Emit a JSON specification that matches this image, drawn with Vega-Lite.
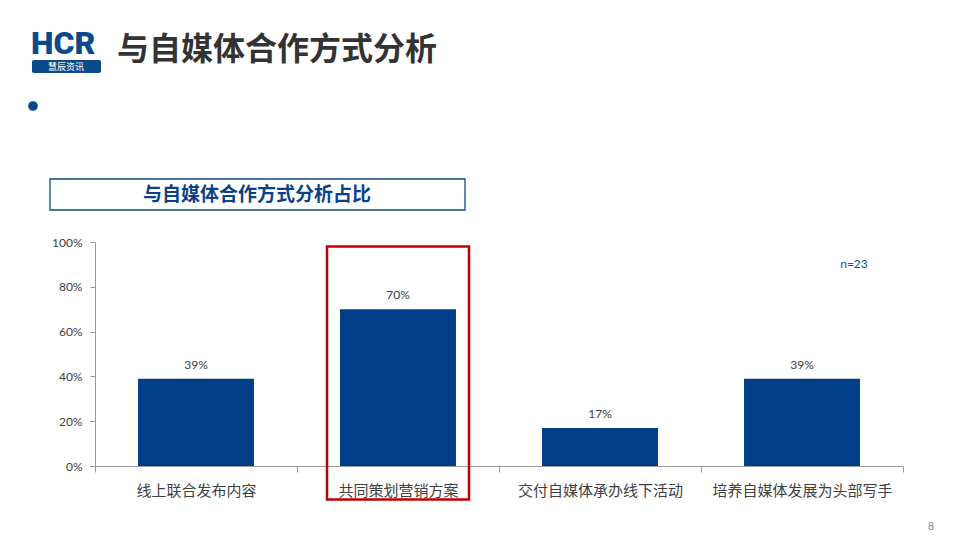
{
  "$schema": "https://vega.github.io/schema/vega-lite/v6.json",
  "width": 808,
  "height": 224,
  "autosize": {"type": "none"},
  "padding": {"left": 95, "top": 242, "right": 57, "bottom": 74},
  "background": "white",
  "config": {"view": {"stroke": null}, "font": "Noto Sans CJK SC"},
  "data": {
    "values": [
      {"method": "线上联合发布内容", "share": 0.39},
      {"method": "共同策划营销方案", "share": 0.70},
      {"method": "交付自媒体承办线下活动", "share": 0.17},
      {"method": "培养自媒体发展为头部写手", "share": 0.39}
    ]
  },
  "layer": [
    {
      "mark": {"type": "bar", "color": "#003F87", "width": {"band": 0.574}},
      "encoding": {
        "x": {
          "field": "method",
          "type": "nominal",
          "sort": null,
          "scale": {"paddingInner": 0, "paddingOuter": 0},
          "axis": {
            "title": null,
            "labelAngle": 0,
            "labelFontSize": 15,
            "labelColor": "#404040",
            "labelFont": "Noto Sans CJK SC",
            "labelPadding": 11,
            "labelLimit": 400,
            "tickBand": "extent",
            "tickSize": 6,
            "tickColor": "#999999",
            "domainColor": "#999999"
          }
        },
        "y": {
          "field": "share",
          "type": "quantitative",
          "scale": {"domain": [0, 1], "nice": false},
          "axis": {
            "title": null,
            "values": [0, 0.2, 0.4, 0.6, 0.8, 1],
            "format": ".0%",
            "grid": false,
            "labelFontSize": 12,
            "labelColor": "#404040",
            "labelFont": "Lato",
            "labelPadding": 8,
            "tickSize": 5,
            "tickColor": "#999999",
            "domainColor": "#999999"
          }
        }
      }
    },
    {
      "mark": {"type": "text", "dy": -14, "fontSize": 12, "color": "#404040", "font": "Lato"},
      "encoding": {
        "x": {"field": "method", "type": "nominal", "sort": null},
        "y": {"field": "share", "type": "quantitative"},
        "text": {"field": "share", "format": ".0%"}
      }
    },
    {
      "data": {"values": [{}]},
      "mark": {"type": "bar", "filled": false, "stroke": "#C00000", "strokeWidth": 2.5, "width": 142},
      "encoding": {
        "x": {"datum": "共同策划营销方案"},
        "y": {"datum": 0.98},
        "y2": {"datum": -0.15}
      }
    },
    {
      "data": {"values": [{}]},
      "mark": {"type": "text", "text": "n=23", "fontSize": 12, "color": "#1F4E8C", "font": "Lato", "dx": 52, "baseline": "middle"},
      "encoding": {
        "x": {"datum": "培养自媒体发展为头部写手"},
        "y": {"datum": 0.902}
      }
    },
    {
      "data": {"values": [{}]},
      "mark": {"type": "text", "text": "与自媒体合作方式分析", "x": 22, "y": -192, "align": "left", "baseline": "middle", "fontSize": 32, "fontWeight": "bold", "color": "#333333"},
      "encoding": {}
    },
    {
      "data": {"values": [{}]},
      "mark": {"type": "text", "text": "HCR", "x": -64, "y": -188.5, "align": "left", "baseline": "alphabetic", "fontSize": 32, "fontWeight": 900, "font": "Roboto", "color": "#0B4A8A"},
      "encoding": {}
    },
    {
      "data": {"values": [{}]},
      "mark": {"type": "rect", "x": -63, "x2": 6, "y": -182, "y2": -169, "cornerRadius": 2, "color": "#0B4A8A"},
      "encoding": {}
    },
    {
      "data": {"values": [{}]},
      "mark": {"type": "text", "text": "慧辰资讯", "x": -29, "y": -175, "align": "center", "baseline": "middle", "fontSize": 9, "color": "white"},
      "encoding": {}
    },
    {
      "data": {"values": [{}]},
      "mark": {"type": "rule", "x": 13, "y": -221, "y2": -161, "strokeWidth": 3, "color": "#0B4A8A"},
      "encoding": {}
    },
    {
      "data": {"values": [{}]},
      "mark": {"type": "point", "filled": true, "shape": "circle", "x": -62, "y": -136, "size": 95, "color": "#0B4A8A", "opacity": 1},
      "encoding": {}
    },
    {
      "data": {"values": [{}]},
      "mark": {"type": "rect", "x": -45, "x2": 370, "y": -63, "y2": -32, "fill": "white", "stroke": "#0B4A8A", "strokeWidth": 1.3},
      "encoding": {}
    },
    {
      "data": {"values": [{}]},
      "mark": {"type": "text", "text": "与自媒体合作方式分析占比", "x": 162, "y": -47, "align": "center", "baseline": "middle", "fontSize": 19, "fontWeight": "bold", "color": "#0B4287"},
      "encoding": {}
    },
    {
      "data": {"values": [{}]},
      "mark": {"type": "text", "text": "8", "x": 836, "y": 285, "align": "center", "baseline": "middle", "fontSize": 11, "color": "#888888"},
      "encoding": {}
    }
  ]
}
